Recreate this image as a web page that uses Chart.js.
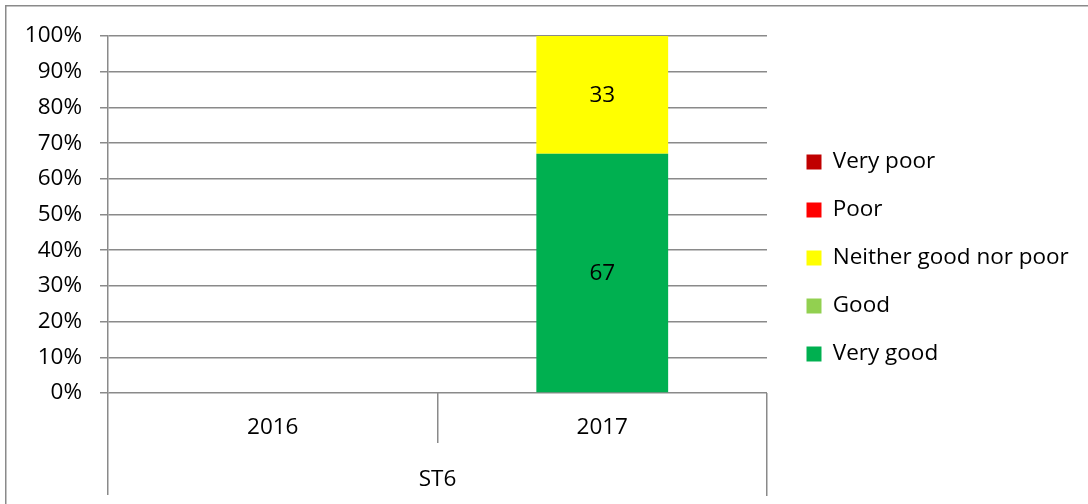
<!DOCTYPE html>
<html>
<head>
<meta charset="utf-8">
<script src="https://cdn.jsdelivr.net/npm/chart.js@4/dist/chart.umd.min.js"></script>
<style>
  html, body { margin: 0; padding: 0; background: #fff; }
  #wrap { position: relative; width: 1088px; height: 504px; }
</style>
</head>
<body>
<div id="wrap"><canvas id="rating-chart"></canvas></div>
<script>
const categories = ["2016", "2017"];
const groupLabel = "ST6";

// stacked from the bottom up
const seriesNames = ["Very good", "Good", "Neither good nor poor", "Poor", "Very poor"];
const seriesColors = ["#00B050", "#92D050", "#FFFF00", "#FF0000", "#C00000"];
const veryGood = [0, 67];
const good = [0, 0];
const neither = [0, 33];
const poor = [0, 0];
const veryPoor = [0, 0];

const seriesValues = [veryGood, good, neither, poor, veryPoor];
const lineColor = "#8a8a8a";
const lineWidth = 1.5;
const fontFamily = "'Open Sans'";
const fontSize = 22.5;

const legendPad = 25.5;
const legendBox = 15;
const legendWidth = 307;
const rightGap = 14;

const datasets = seriesNames.map((name, i) => ({
  label: name,
  data: seriesValues[i],
  backgroundColor: seriesColors[i],
  borderWidth: 0,
  xAxisID: "x",
  yAxisID: "y",
}));

// the layout caps side boxes at a quarter of the width; give the legend a fixed width instead
const wideLegend = {
  id: "wideLegend",
  afterInit(chart) {
    const legend = chart.legend;
    if (!legend) return;
    const fit = legend.fit.bind(legend);
    legend.fit = () => {
      fit();
      legend.width = legendWidth;
    };
  },
};

// value labels in the middle of each segment
const segmentLabels = {
  id: "segmentLabels",
  afterDatasetsDraw(chart) {
    const ctx = chart.ctx;
    ctx.save();
    ctx.font = fontSize + "px " + fontFamily;
    ctx.fillStyle = "#000";
    ctx.textAlign = "center";
    ctx.textBaseline = "middle";
    chart.data.datasets.forEach((ds, di) => {
      const meta = chart.getDatasetMeta(di);
      meta.data.forEach((bar, i) => {
        const v = ds.data[i];
        if (!v) return;
        ctx.fillText(String(v), bar.x, (bar.y + bar.base) / 2 + 1);
      });
    });
    ctx.restore();
  },
};

// two-level category axis lines, group label and outer frame
const axisFrame = {
  id: "axisFrame",
  afterDraw(chart) {
    const ctx = chart.ctx;
    const x = chart.scales.x;
    const area = chart.chartArea;
    ctx.save();
    ctx.strokeStyle = lineColor;
    ctx.lineWidth = lineWidth;
    const vline = (px, y1, y2) => {
      const sx = Math.round(px - lineWidth / 2) + lineWidth / 2;
      ctx.beginPath();
      ctx.moveTo(sx, y1);
      ctx.lineTo(sx, y2);
      ctx.stroke();
    };
    vline(x.left, area.bottom, area.bottom + 102);
    vline(x.right, area.bottom, area.bottom + 103);
    for (let i = 1; i < categories.length; i++) {
      const mid = (x.getPixelForValue(i - 1) + x.getPixelForValue(i)) / 2;
      vline(mid, area.bottom, area.bottom + 50);
    }
    ctx.font = fontSize + "px " + fontFamily;
    ctx.fillStyle = "#000";
    ctx.textAlign = "center";
    ctx.textBaseline = "middle";
    ctx.fillText(groupLabel, (x.left + x.right) / 2, area.bottom + 87);

    ctx.strokeRect(5.75, 5.75, chart.width + 20, chart.height + 20);
    ctx.restore();
  },
};

new Chart(document.getElementById("rating-chart"), {
  type: "bar",
  data: { labels: categories, datasets: datasets },
  options: {
    responsive: true,
    maintainAspectRatio: false,
    animation: false,
    layout: { padding: { left: 0, top: 20, right: 0, bottom: 8 } },
    plugins: {
      tooltip: { enabled: false },
      legend: {
        position: "right",
        reverse: true,
        labels: {
          boxWidth: legendBox,
          boxHeight: legendBox,
          padding: legendPad,
          color: "#000",
          font: { family: fontFamily, size: fontSize },
        },
      },
    },
    datasets: {
      bar: { categoryPercentage: 1, barPercentage: 0.4 },
    },
    scales: {
      x: {
        stacked: true,
        grid: { display: false },
        border: { display: false },
        ticks: { color: "#000", padding: 13.5, font: { family: fontFamily, size: fontSize } },
        afterFit: (s) => { s.height = 103; },
      },
      y: {
        stacked: true,
        min: 0,
        max: 100,
        ticks: {
          stepSize: 10,
          padding: 18,
          color: "#000",
          font: { family: fontFamily, size: fontSize },
          callback: (v) => v + "%",
        },
        grid: { color: lineColor, lineWidth: lineWidth, tickLength: 8 },
        border: { display: true, color: lineColor, width: lineWidth },
        afterFit: (s) => { s.width = 108; },
      },
      // empty spacers around the plot
      gapRight: {
        type: "linear",
        position: "right",
        ticks: { display: false },
        grid: { display: false },
        border: { display: false },
        afterFit: (s) => { s.width = rightGap; },
      },
      gapTop: {
        type: "linear",
        position: "top",
        ticks: { display: false },
        grid: { display: false },
        border: { display: false },
        afterFit: (s) => { s.height = 16; },
      },
    },
  },
  plugins: [wideLegend, segmentLabels, axisFrame],
});
</script>
</body>
</html>
